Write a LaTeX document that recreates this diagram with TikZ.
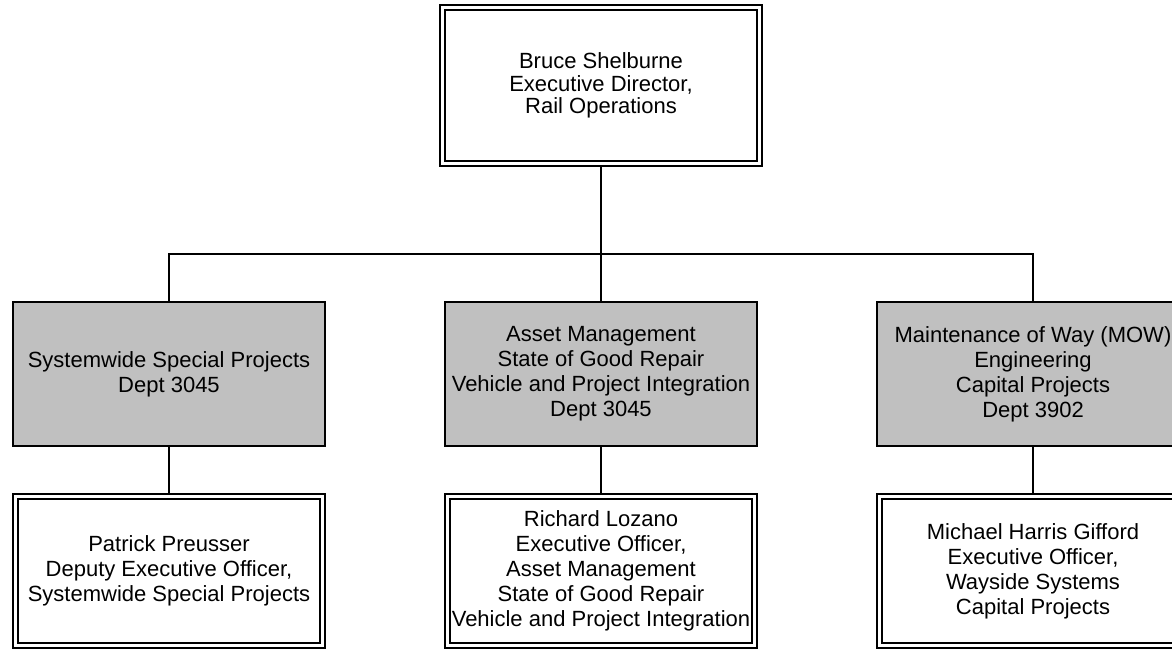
\documentclass[tikz,border=0pt]{standalone}
\usepackage{fontspec}
\setmainfont{Liberation Sans}
\definecolor{boxgrey}{RGB}{192,192,192}
\tikzset{
  txt/.style={align=center, font=\fontsize{11}{12.5}\selectfont, inner sep=0pt, outer sep=0pt},
  greybox/.style={txt, rectangle, draw=black, line width=1pt, fill=boxgrey,
    minimum width=156pt, minimum height=72pt},
  dblbox/.style={txt, rectangle, draw=black, line width=0.55pt, fill=white,
    path picture={\draw[line width=1pt]
      ([shift={(2.5pt,-2.5pt)}]path picture bounding box.north west) rectangle
      ([shift={(-2.5pt,2.5pt)}]path picture bounding box.south east);}},
  personbox/.style={dblbox, minimum width=156pt, minimum height=77pt},
  link/.style={draw=black, line width=1pt}
}
\begin{document}
\begin{tikzpicture}[x=0.5pt,y=-0.5pt]
\useasboundingbox (0,0) rectangle (1172,649);
\fill[white] (0,0) rectangle (1172,649);

\node[dblbox, minimum width=161pt, minimum height=80.5pt,
  font=\fontsize{11}{11.3}\selectfont] (top) at (601,85.5)
  {Bruce Shelburne\\Executive Director,\\Rail Operations};

\node[greybox] (g1) at (169,374) {Systemwide Special Projects\\Dept 3045};
\node[greybox] (g2) at (601,374) {Asset Management\\State of Good Repair\\Vehicle and Project Integration\\Dept 3045};
\node[greybox] (g3) at (1033,374) {Maintenance of Way (MOW)\\Engineering\\Capital Projects\\Dept 3902};

\node[personbox] (p1) at (169,571) {Patrick Preusser\\Deputy Executive Officer,\\Systemwide Special Projects};
\node[personbox] (p2) at (601,571) {Richard Lozano\\Executive Officer,\\Asset Management\\State of Good Repair\\Vehicle and Project Integration};
\node[personbox] (p3) at (1033,571) {Michael Harris Gifford\\Executive Officer,\\Wayside Systems\\Capital Projects};

\coordinate (bar) at (601,254);
\draw[link] (top.south) -- (bar);
\draw[link] (g1.north) |- (bar) -| (g3.north);
\draw[link] (bar) -- (g2.north);
\draw[link] (g1.south) -- (p1.north);
\draw[link] (g2.south) -- (p2.north);
\draw[link] (g3.south) -- (p3.north);
\end{tikzpicture}
\end{document}
